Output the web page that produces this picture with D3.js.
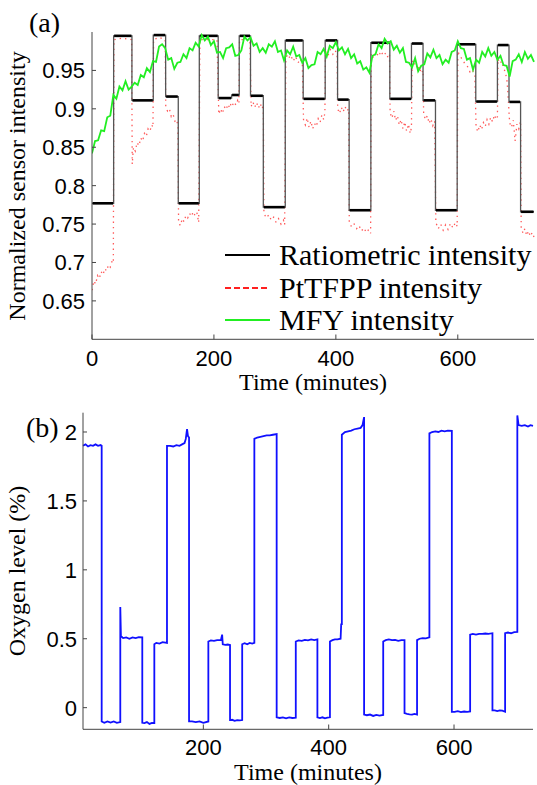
<!DOCTYPE html>
<html>
<head>
<meta charset="utf-8">
<script src="https://cdn.jsdelivr.net/npm/d3@7"></script>
<style>
  body { margin: 0; background: #fff; }
  .tick-label { font-family: "Liberation Sans", Arial, sans-serif; font-size: 22px; fill: #000; }
  .serif { font-family: "Liberation Serif", "Times New Roman", serif; fill: #000; }
</style>
</head>
<body>
<script>
// ---- panel (a) data ----
// ratiometric steps: start time, end time, level
let ratioStart = [0, 35.5, 65.5, 100.5, 120.8, 141.5, 176, 207, 229, 241.5, 260, 281, 317, 346.4, 382.5, 402.8, 421.8, 457.4, 488.5, 524, 543, 563.4, 599, 629.5, 665, 684, 703];
let ratioEnd   = [35.5, 65.5, 100.5, 120.8, 141.5, 176, 207, 229, 241.5, 260, 281, 317, 346.4, 382.5, 402.8, 421.8, 457.4, 488.5, 524, 543, 563.4, 599, 629.5, 665, 684, 703, 725];
let ratioLevel = [0.777, 0.995, 0.911, 0.996, 0.916, 0.777, 0.995, 0.914, 0.918, 0.995, 0.917, 0.772, 0.989, 0.913, 0.989, 0.912, 0.768, 0.986, 0.913, 0.985, 0.911, 0.768, 0.984, 0.9095, 0.983, 0.909, 0.766];

// PtTFPP intensity [time, value]
let ptTime = [0,3,6,9,12,15,18,21,24,27,30,33,35, 36,50,65,
  66,68,71,74,77,80,83,86,89,92,95,98,100, 101,110,120,
  121,124,127,130,133,136,139,141,
  142,145,148,151,154,157,160,163,166,169,172,175, 177,205,
  208,211,214,217,220,223,226,228, 230,233,236,239,241, 242,259,
  261,264,267,270,273,276,279,281,
  282,286,290,294,298,302,306,310,314,316,
  318,322,326,330,334,338,342,345,
  347,350,353,356,359,362,365,368,371,374,377,380,382,
  383,387,391,395,399,402,
  403,406,409,412,415,418,421,
  422,426,430,434,438,442,446,450,454,457,
  458,462,466,470,474,478,482,486,488,
  489,492,495,498,501,504,507,510,513,516,519,522,524,
  525,528,531,534,537,540,543,
  544,547,550,553,556,559,562,
  564,568,572,576,580,584,588,592,596,599,
  600,604,608,612,616,620,624,628,
  630,633,636,639,642,645,648,651,654,657,660,663,665,
  666,669,672,675,678,681,683,
  685,688,691,694,697,700,703,
  704,707,710,713,716,719,722,725];
let ptValue = [0.664,0.676,0.672,0.683,0.679,0.688,0.684,0.692,0.689,0.697,0.694,0.702,0.700, 0.99,0.992,0.99,
  0.828,0.85,0.845,0.856,0.852,0.862,0.858,0.868,0.864,0.874,0.871,0.879,0.876, 0.99,0.993,0.99,
  0.902,0.897,0.9,0.89,0.893,0.884,0.886,0.876,
  0.752,0.748,0.757,0.753,0.761,0.758,0.764,0.76,0.766,0.761,0.765,0.752, 0.99,0.99,
  0.893,0.9,0.894,0.903,0.899,0.906,0.901,0.907, 0.904,0.909,0.905,0.911,0.907, 0.99,0.99,
  0.903,0.909,0.902,0.908,0.901,0.907,0.9,0.905,
  0.764,0.758,0.762,0.755,0.759,0.752,0.757,0.75,0.755,0.749,
  0.972,0.965,0.97,0.962,0.968,0.96,0.965,0.958,
  0.885,0.879,0.888,0.876,0.884,0.874,0.881,0.877,0.887,0.882,0.892,0.886,0.895,
  0.975,0.969,0.977,0.971,0.976,0.97,
  0.9,0.894,0.902,0.896,0.903,0.897,0.9,
  0.752,0.746,0.75,0.744,0.748,0.741,0.745,0.739,0.743,0.738,
  0.972,0.966,0.974,0.968,0.975,0.969,0.973,0.966,0.97,
  0.895,0.888,0.897,0.885,0.891,0.879,0.886,0.874,0.883,0.871,0.88,0.868,0.876,
  0.963,0.957,0.96,0.951,0.955,0.946,0.95,
  0.893,0.886,0.891,0.881,0.887,0.878,0.884,
  0.752,0.744,0.75,0.742,0.749,0.743,0.751,0.745,0.752,0.747,
  0.975,0.968,0.964,0.958,0.955,0.948,0.951,0.943,
  0.876,0.87,0.879,0.873,0.882,0.877,0.886,0.88,0.889,0.883,0.892,0.886,0.89,
  0.965,0.959,0.962,0.953,0.948,0.935,0.91,
  0.882,0.876,0.885,0.858,0.88,0.874,0.884,
  0.745,0.738,0.744,0.735,0.741,0.734,0.739,0.733];

// MFY intensity, every 5 minutes from 0 to 725
let mfyValue = [0.842,0.858,0.859,0.872,0.871,0.889,0.891,0.918,0.913,0.929,0.924,0.936,0.925,0.929,0.934,0.931,0.944,0.941,0.953,0.948,
  0.962,0.961,0.981,0.984,0.979,0.964,0.966,0.952,0.96,0.961,0.971,0.966,0.979,0.976,0.986,0.981,0.996,0.989,0.994,0.983,
  0.988,0.973,0.974,0.966,0.979,0.98,0.984,0.969,0.97,0.976,0.994,0.989,0.993,0.982,0.985,0.974,0.979,0.973,0.984,0.981,
  0.988,0.974,0.976,0.963,0.976,0.971,0.981,0.968,0.97,0.96,0.966,0.953,0.957,0.958,0.974,0.971,0.978,0.968,0.982,0.979,
  0.987,0.976,0.98,0.971,0.978,0.966,0.971,0.959,0.962,0.951,0.954,0.947,0.969,0.971,0.984,0.979,0.991,0.985,0.988,0.977,
  0.982,0.973,0.979,0.961,0.96,0.954,0.966,0.949,0.956,0.958,0.972,0.967,0.977,0.966,0.97,0.958,0.964,0.96,0.974,0.976,
  0.988,0.979,0.978,0.964,0.966,0.951,0.964,0.96,0.974,0.968,0.979,0.969,0.974,0.964,0.969,0.957,0.956,0.942,0.962,0.964,
  0.971,0.961,0.974,0.965,0.97,0.961];
let mfyTime = mfyValue.map((d, i) => i * 5);

let xTicksA = [0, 200, 400, 600];
let yTicksA = [0.65, 0.7, 0.75, 0.8, 0.85, 0.9, 0.95];
let legendNames = ["Ratiometric intensity", "PtTFPP intensity", "MFY intensity"];

// ---- panel (b) data ----
let oxyTime = [8,12,16,20,24,28,32,36,37.8,
  37.8,42,47,52,57,62,67.5,
  67.5,68.5,72,77,82,87,92,97,102.6,
  102.6,106,110,114,118,121.8,
  121.8,125,130,135,142,
  142,147,152,157,162,166,170,172,174,175.5,177.2,
  177.2,182,188,194,200,208,
  208,212,217,222,228,230,231,235,239,242.6,
  242.6,246,250,254,258,262,
  262,266,270,274,278,281.4,
  281.4,286,291,296,301,306,311,317,
  317,322,327,332,337,342,347.5,
  347.5,352,357,362,367,372,377,382,
  382,386,390,394,398,402,
  402,406,410,414,419,420,421,
  421,426,431,436,441,446,451,454,456.5,
  456.5,461,466,471,476,481,487,
  487,491,496,501,506,511,516,521,
  521,525,529,533,537,541,
  541,545,550,555,560.7,
  560.7,565,570,575,580,585,590,596.5,
  596.5,601,606,611,616,621,625.7,
  625.7,630,635,640,645,650,655,661.3,
  661.3,665,669,673,677,681.5,
  681.5,686,691,696,701,
  701,703,708,713,718,722,726];
let oxyValue = [1.9,1.91,1.895,1.905,1.9,1.91,1.9,1.905,1.9,
  -0.1,-0.11,-0.1,-0.108,-0.1,-0.11,-0.105,
  0.73,0.52,0.505,0.51,0.5,0.51,0.505,0.512,0.51,
  -0.11,-0.112,-0.105,-0.118,-0.11,-0.112,
  0.46,0.47,0.465,0.475,0.47,
  1.9,1.9,1.895,1.905,1.9,1.91,1.92,1.95,2.02,1.97,1.96,
  -0.1,-0.1,-0.105,-0.1,-0.11,-0.1,
  0.48,0.488,0.485,0.49,0.49,0.53,0.46,0.455,0.458,0.455,
  -0.09,-0.088,-0.095,-0.09,-0.092,-0.09,
  0.46,0.468,0.46,0.47,0.465,0.47,
  1.95,1.96,1.965,1.97,1.975,1.975,1.98,1.985,
  -0.07,-0.075,-0.07,-0.078,-0.07,-0.075,-0.072,
  0.48,0.488,0.485,0.492,0.488,0.495,0.49,0.495,
  -0.07,-0.075,-0.07,-0.078,-0.072,-0.07,
  0.48,0.49,0.495,0.495,0.5,0.61,0.6,
  1.98,2.0,2.005,2.01,2.02,2.025,2.03,2.05,2.108,
  -0.05,-0.055,-0.05,-0.06,-0.052,-0.058,-0.053,
  0.48,0.49,0.495,0.49,0.492,0.485,0.49,0.49,
  -0.04,-0.045,-0.048,-0.05,-0.045,-0.05,
  0.49,0.5,0.505,0.503,0.51,
  1.99,2.0,2.005,2.0,2.01,2.005,2.01,2.008,
  -0.03,-0.03,-0.025,-0.032,-0.028,-0.03,-0.028,
  0.53,0.535,0.53,0.535,0.535,0.538,0.535,0.54,
  -0.02,-0.02,-0.025,-0.02,-0.022,-0.03,
  0.54,0.545,0.54,0.548,0.55,
  2.12,2.05,2.045,2.05,2.04,2.05,2.045];

let xTicksB = [200, 400, 600];
let yTicksB = [0, 0.5, 1, 1.5, 2];

let width = 537, height = 785;
let svg = d3.select("body").append("svg")
  .attr("width", width)
  .attr("height", height);

//===== panel (a) =====
let xA = d3.scaleLinear().domain([0, 725]).range([92, 534]);
let yA = d3.scaleLinear().domain([0.6, 1.0]).range([339.3, 32]);

let gA = svg.append("g");
let clipA = svg.append("defs").append("clipPath").attr("id", "clipA");
clipA.append("rect").attr("x", 92).attr("y", 30).attr("width", 443).attr("height", 310);

let plotA = gA.append("g").attr("clip-path", "url(#clipA)");

// PtTFPP (dashed red, looks dotted on noisy data)
let ptLine = d3.line().x((d, i) => xA(ptTime[i])).y((d, i) => yA(ptValue[i]));
plotA.append("path")
  .attr("d", ptLine(ptValue))
  .attr("fill", "none")
  .attr("stroke", "#ff2020")
  .attr("stroke-width", 1.3)
  .attr("stroke-dasharray", "1.4 4")
  .attr("opacity", 0.75);

// ratiometric step line
let ratioPts = [];
ratioLevel.forEach((v, i) => {
  ratioPts.push([ratioStart[i], v]);
  ratioPts.push([ratioEnd[i], v]);
});
let stepLine = d3.line().x(d => xA(d[0])).y(d => yA(d[1]));
plotA.append("path")
  .attr("d", stepLine(ratioPts))
  .attr("fill", "none")
  .attr("stroke", "#555")
  .attr("stroke-width", 1.3);
plotA.selectAll(".lvl").data(ratioLevel).enter().append("line")
  .attr("class", "lvl")
  .attr("x1", (d, i) => xA(ratioStart[i]) + 0.5)
  .attr("x2", (d, i) => xA(ratioEnd[i]) - 0.5)
  .attr("y1", d => yA(d))
  .attr("y2", d => yA(d))
  .attr("stroke", "#000")
  .attr("stroke-width", 2.6);

// MFY (green)
let mfyLine = d3.line().x((d, i) => xA(mfyTime[i])).y(d => yA(d));
plotA.append("path")
  .attr("d", mfyLine(mfyValue))
  .attr("fill", "none")
  .attr("stroke", "#22ee22")
  .attr("stroke-width", 1.8);

// axes (a)
let axisColor = "#444";
gA.append("line").attr("x1", 92).attr("x2", 92).attr("y1", 32).attr("y2", 339.3)
  .attr("stroke", axisColor).attr("stroke-width", 1);
gA.append("line").attr("x1", 92).attr("x2", 534).attr("y1", 339.3).attr("y2", 339.3)
  .attr("stroke", axisColor).attr("stroke-width", 1);
gA.selectAll(".ytA").data(yTicksA).enter().append("line")
  .attr("x1", 92).attr("x2", 96).attr("y1", d => yA(d)).attr("y2", d => yA(d))
  .attr("stroke", axisColor);
gA.selectAll(".ylA").data(yTicksA).enter().append("text")
  .attr("class", "tick-label")
  .attr("x", 85).attr("y", d => yA(d) + 8)
  .attr("text-anchor", "end")
  .text(d => String(d));
gA.selectAll(".xtA").data(xTicksA).enter().append("line")
  .attr("x1", d => xA(d)).attr("x2", d => xA(d)).attr("y1", 339.3).attr("y2", 334.5)
  .attr("stroke", axisColor);
gA.selectAll(".xlA").data(xTicksA).enter().append("text")
  .attr("class", "tick-label")
  .attr("x", d => xA(d)).attr("y", 366)
  .attr("text-anchor", "middle")
  .text(d => d);

gA.append("text").attr("class", "serif")
  .attr("x", 313).attr("y", 390)
  .attr("text-anchor", "middle").style("font-size", "24px")
  .text("Time (minutes)");
gA.append("text").attr("class", "serif")
  .attr("transform", "translate(25,186) rotate(-90)")
  .attr("text-anchor", "middle").style("font-size", "24px")
  .text("Normalized sensor intensity");
gA.append("text").attr("class", "serif")
  .attr("x", 29).attr("y", 32).style("font-size", "28px")
  .text("(a)");

// legend
let legY = [255, 288, 320];
let legStroke = ["#000", "#ff2020", "#22ee22"];
let legDash = [null, "6 3", null];
let legend = gA.append("g");
legendNames.forEach((name, i) => {
  legend.append("line")
    .attr("x1", 225).attr("x2", 270)
    .attr("y1", legY[i]).attr("y2", legY[i])
    .attr("stroke", legStroke[i])
    .attr("stroke-width", 2)
    .attr("stroke-dasharray", legDash[i]);
  legend.append("text").attr("class", "serif")
    .attr("x", 279).attr("y", legY[i] + 10)
    .style("font-size", "30px")
    .text(name);
});

//===== panel (b) =====
let xB = d3.scaleLinear().domain([8, 726]).range([83, 533]);
let yB = d3.scaleLinear().domain([-0.157, 2.14]).range([729.3, 412.7]);

let gB = svg.append("g");
let oxyLine = d3.line().x((d, i) => xB(oxyTime[i])).y(d => yB(d));
gB.append("path")
  .attr("d", oxyLine(oxyValue))
  .attr("fill", "none")
  .attr("stroke", "#1010ff")
  .attr("stroke-width", 1.8);

gB.append("line").attr("x1", 83).attr("x2", 83).attr("y1", 412.7).attr("y2", 729.3)
  .attr("stroke", axisColor);
gB.append("line").attr("x1", 83).attr("x2", 533).attr("y1", 729.3).attr("y2", 729.3)
  .attr("stroke", axisColor);
gB.selectAll(".ytB").data(yTicksB).enter().append("line")
  .attr("x1", 83).attr("x2", 87).attr("y1", d => yB(d)).attr("y2", d => yB(d))
  .attr("stroke", axisColor);
gB.selectAll(".ylB").data(yTicksB).enter().append("text")
  .attr("class", "tick-label")
  .attr("x", 77).attr("y", d => yB(d) + 8)
  .attr("text-anchor", "end")
  .text(d => String(d));
gB.selectAll(".xtB").data(xTicksB).enter().append("line")
  .attr("x1", d => xB(d)).attr("x2", d => xB(d)).attr("y1", 729.3).attr("y2", 724.5)
  .attr("stroke", axisColor);
gB.selectAll(".xlB").data(xTicksB).enter().append("text")
  .attr("class", "tick-label")
  .attr("x", d => xB(d)).attr("y", 755)
  .attr("text-anchor", "middle")
  .text(d => d);

gB.append("text").attr("class", "serif")
  .attr("x", 308).attr("y", 780)
  .attr("text-anchor", "middle").style("font-size", "24px")
  .text("Time (minutes)");
gB.append("text").attr("class", "serif")
  .attr("transform", "translate(25,571) rotate(-90)")
  .attr("text-anchor", "middle").style("font-size", "24px")
  .text("Oxygen level (%)");
gB.append("text").attr("class", "serif")
  .attr("x", 26).attr("y", 437).style("font-size", "28px")
  .text("(b)");
</script>
</body>
</html>
